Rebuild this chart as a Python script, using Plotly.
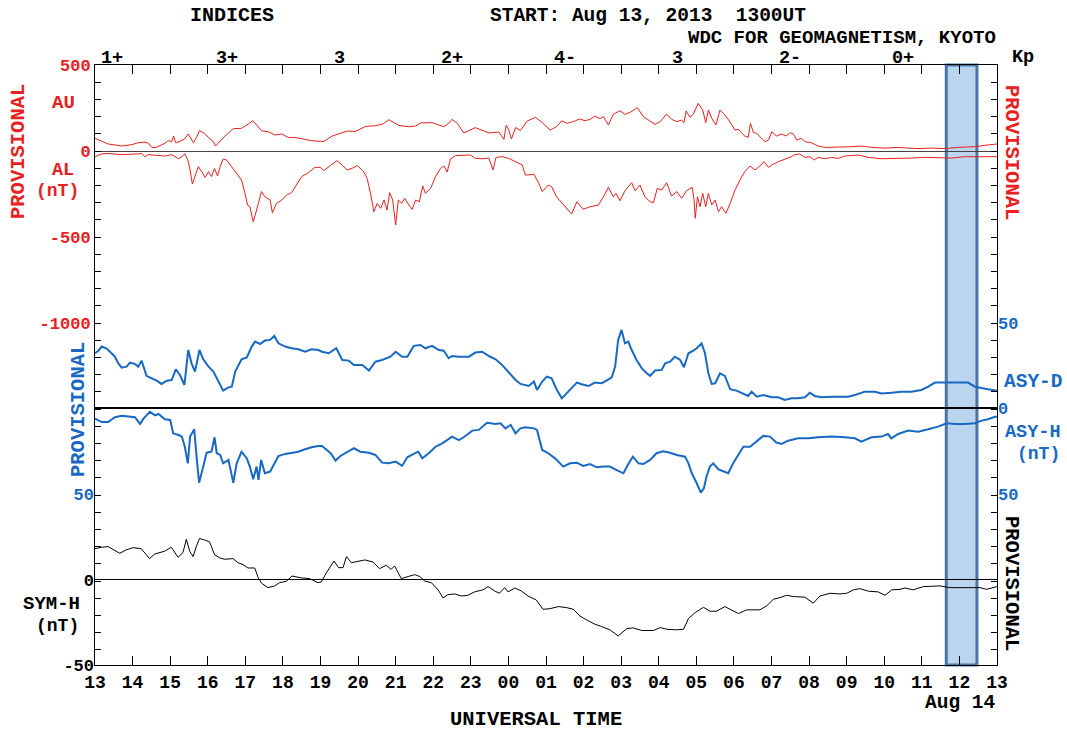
import pandas as pd
import plotly.graph_objects as go

START = pd.Timestamp("2013-08-13 13:00")
RED = "#e8201e"
BLUE = "#1769c4"
BLACK = "#000000"
FONT = "Liberation Mono, Courier New, monospace"

# ---------------- data (hours after 13:00 UT, Aug 13 2013) ----------------
au_hours = [0.00,0.35,0.71,0.98,1.15,1.33,1.42,1.51,1.60,1.69,
            1.86,1.95,2.04,2.09,2.15,2.26,2.39,2.48,2.53,2.62,
            2.71,2.78,2.88,3.02,3.15,3.21,3.28,3.46,3.68,3.90,
            4.08,4.20,4.30,4.43,4.61,4.79,4.97,5.14,5.32,5.50,
            5.76,6.00,
            6.09,6.31,6.49,6.71,6.93,7.20,7.46,7.64,7.82,8.08,
            8.35,8.53,8.66,8.97,9.28,9.41,9.50,9.64,9.81,10.12,
            10.48,10.75,10.88,10.94,11.01,11.08,11.19,11.32,11.50,11.72,
            11.90,
            11.97,12.11,12.28,12.42,12.55,12.73,12.90,13.04,13.17,13.30,
            13.44,13.53,13.66,13.79,13.97,14.10,14.24,14.43,14.59,14.72,
            14.90,15.03,15.21,15.34,15.48,15.61,15.67,15.73,15.83,15.92,
            16.05,16.17,16.25,16.32,16.41,16.52,16.63,16.72,16.85,17.03,
            17.12,17.21,17.29,17.38,17.44,17.52,17.61,17.69,17.83,17.92,
            18.01,
            18.13,18.27,18.40,18.49,18.58,18.67,18.80,18.89,19.06,19.24,
            19.42,19.60,19.86,20.13,20.39,20.66,21.02,21.37,21.64,21.90,
            22.26,22.61,22.97,23.41,23.68,24.00]
au_nt = [74,41,29,37,48,52,45,21,19,29,
         45,60,54,87,48,56,72,99,79,48,
         83,118,107,79,54,29,45,87,130,132,
         157,176,151,118,112,93,99,79,79,70,
         60,56,
         56,87,99,116,114,143,147,155,182,149,
         141,145,163,165,141,161,184,161,105,136,
         105,110,68,149,122,70,136,120,174,196,
         165,
         151,122,141,176,161,171,186,176,184,203,
         188,200,151,213,234,213,225,252,200,180,
         155,169,215,184,171,180,165,233,196,215,
         277,238,165,238,190,151,238,219,184,122,
         126,103,87,79,161,107,103,83,54,64,
         112,
         87,99,87,107,99,64,74,54,48,29,
         21,21,21,25,29,21,17,21,17,14,
         17,14,21,25,33,41]

al_hours = [0.00,0.18,0.35,0.71,1.15,1.24,1.33,1.42,1.60,1.86,
            2.04,2.22,2.31,2.39,2.47,2.53,2.59,2.66,2.75,2.84,
            2.93,3.02,3.10,3.18,3.26,3.33,3.41,3.50,3.64,3.77,
            3.90,3.99,4.06,4.12,4.21,4.30,4.43,4.52,4.66,4.72,
            4.83,4.97,5.10,5.23,5.37,5.50,5.68,5.85,6.00,
            6.09,6.27,6.44,6.58,6.71,6.84,6.98,7.15,7.24,7.33,
            7.42,7.51,7.60,7.69,7.77,7.84,7.92,8.00,8.07,8.16,
            8.24,8.35,8.44,8.53,8.63,8.72,8.79,8.93,9.06,9.19,
            9.28,9.37,9.46,9.59,9.81,9.99,10.12,10.30,10.48,10.59,
            10.67,10.83,11.01,11.19,11.37,11.45,11.68,11.81,11.90,
            12.06,12.15,12.28,12.46,12.68,12.82,12.99,13.17,13.39,13.53,
            13.66,13.79,13.86,13.97,14.10,14.28,14.37,14.50,14.63,14.77,
            14.86,14.96,15.08,15.21,15.34,15.48,15.61,15.74,15.89,15.94,
            15.97,16.03,16.10,16.17,16.25,16.32,16.41,16.50,16.59,16.67,
            16.79,16.90,17.03,17.16,17.29,17.43,17.56,17.69,17.80,17.92,
            18.01,
            18.18,18.35,18.49,18.62,18.75,18.89,19.02,19.14,19.24,19.42,
            19.60,19.77,19.95,20.31,20.57,20.93,21.37,21.72,22.08,22.43,
            22.79,23.14,23.50,24.00]
al_nt = [-33,-17,-14,-21,-17,-14,-33,-21,-25,-29,
         -21,-45,-33,-17,-52,-110,-192,-145,-91,-120,
         -153,-120,-149,-101,-145,-91,-47,-52,-95,-130,
         -169,-246,-314,-324,-411,-343,-236,-266,-285,-359,
         -304,-285,-256,-242,-192,-149,-126,-95,-95,
         -114,-83,-56,-83,-110,-101,-85,-120,-159,-246,
         -353,-304,-333,-285,-343,-242,-285,-430,-285,-304,
         -275,-314,-339,-285,-295,-203,-246,-217,-149,-103,
         -87,-122,-45,-27,-27,-23,-43,-45,-41,-110,
         -37,-33,-43,-62,-81,-140,-136,-188,-236,
         -198,-207,-266,-314,-366,-295,-339,-324,-314,-266,
         -211,-266,-246,-289,-231,-184,-231,-198,-266,-295,
         -300,-217,-227,-184,-262,-236,-275,-231,-211,-285,
         -391,-266,-324,-246,-324,-246,-314,-285,-353,-324,
         -362,-304,-227,-169,-120,-87,-110,-87,-62,-95,
         -81,
         -62,-48,-37,-21,-17,-37,-33,-52,-37,-45,
         -37,-43,-29,-23,-37,-45,-45,-41,-37,-39,
         -41,-33,-33,-33]

asyd_hours = [0.00,0.09,0.18,0.31,0.44,0.53,0.62,0.71,0.84,0.93,
              1.06,1.15,1.24,1.33,1.37,1.51,1.64,1.77,1.91,2.04,
              2.15,2.26,2.38,2.48,2.57,2.66,2.78,2.88,3.02,3.15,
              3.24,3.33,3.41,3.55,3.64,3.73,3.90,4.04,4.17,4.26,
              4.39,4.52,4.66,4.77,4.88,5.06,5.23,5.41,5.59,5.76,
              5.94,
              6.04,6.22,6.42,6.58,6.75,6.89,7.11,7.29,7.46,7.64,
              7.86,8.00,8.17,8.31,8.48,8.66,8.79,8.97,9.15,9.28,
              9.41,9.50,9.68,9.95,10.12,10.30,10.48,10.66,10.83,11.01,
              11.19,11.32,11.54,11.68,11.76,11.90,
              12.02,12.15,12.28,12.42,12.55,12.68,12.82,12.95,13.13,13.30,
              13.48,13.61,13.75,13.84,13.92,14.01,14.10,14.19,14.28,14.41,
              14.55,14.68,14.77,14.90,15.08,15.17,15.30,15.43,15.57,15.67,
              15.79,15.92,16.01,16.14,16.23,16.32,16.41,16.50,16.63,16.76,
              16.90,17.07,17.25,17.38,17.47,17.61,17.78,18.01,
              18.18,18.35,18.53,18.71,18.89,19.02,19.15,19.33,19.60,19.86,
              20.04,20.22,20.48,20.75,20.93,21.19,21.46,21.72,21.99,22.17,
              22.35,22.52,22.79,22.97,23.23,23.41,23.59,23.76,24.00]
asyd_nt = [32.1,33.6,36.0,34.8,32.1,30.1,26.2,23.7,24.3,26.6,
           25.9,24.3,27.8,22.4,18.9,17.5,16.1,14.2,16.1,16.5,
           22.7,19.4,13.6,34.0,26.2,21.4,34.0,28.6,24.3,21.4,
           17.5,13.6,10.3,12.2,12.6,21.4,28.6,29.7,36.0,38.9,
           37.5,39.5,39.9,42.2,37.9,36.0,35.0,34.4,33.0,34.4,
           34.0,
           33.0,32.1,35.0,28.2,27.8,25.3,25.3,22.0,27.2,28.2,
           30.1,33.0,30.1,30.1,36.4,36.9,35.0,36.4,34.0,33.6,
           29.2,30.5,30.1,30.1,32.5,33.0,30.5,28.6,25.3,20.8,
           16.5,14.2,13.0,15.6,10.7,15.6,
           18.5,17.5,11.1,5.8,8.7,11.7,15.0,14.0,13.0,15.0,
           14.6,16.1,18.1,24.3,39.9,45.7,37.9,38.9,34.0,28.2,
           23.3,20.4,18.9,22.0,22.4,26.2,27.2,30.1,28.2,23.9,
           32.1,33.6,35.0,37.9,32.1,20.4,14.2,14.6,20.4,18.9,
           11.1,10.3,8.7,7.2,9.7,6.8,7.8,6.4,
           6.4,4.9,5.8,5.8,6.4,9.1,7.2,6.4,6.8,6.8,
           6.8,7.8,9.7,9.7,8.7,9.1,9.7,9.7,10.7,12.6,
           15.0,15.0,15.0,14.6,15.0,12.6,11.7,11.1,10.3]

asyh_hours = [0.00,0.18,0.35,0.53,0.71,0.89,1.06,1.20,1.29,1.46,
              1.60,1.69,1.86,2.00,2.08,2.22,2.31,2.39,2.47,2.53,
              2.64,2.71,2.77,2.88,2.97,3.10,3.18,3.24,3.33,3.41,
              3.55,3.68,3.77,3.90,4.04,4.12,4.21,4.30,4.35,4.42,
              4.52,4.66,4.79,4.88,5.06,5.23,5.41,5.59,5.76,5.94,
              6.04,6.27,6.40,6.53,6.71,6.89,7.06,7.29,7.46,7.64,
              7.82,8.00,8.17,8.31,8.48,8.60,8.71,8.88,9.06,9.24,
              9.50,9.68,9.81,10.04,10.21,10.30,10.43,10.66,10.79,10.92,
              11.06,11.19,11.32,11.45,11.68,11.76,11.90,
              12.06,12.24,12.46,12.64,12.82,12.99,13.17,13.35,13.53,13.70,
              13.88,14.06,14.19,14.31,14.46,14.59,14.77,14.94,15.12,15.30,
              15.48,15.70,15.79,15.88,16.01,16.12,16.20,16.27,16.36,16.45,
              16.59,16.72,16.85,16.98,17.12,17.25,17.43,17.61,17.78,17.96,
              18.13,18.27,18.44,18.71,18.98,19.24,19.60,19.95,20.22,20.39,
              20.66,20.93,21.10,21.19,21.37,21.64,21.90,22.17,22.43,22.66,
              22.88,23.14,23.41,23.59,23.76,23.94,24.00]
asyh_nt = [6.0,8.0,8.0,5.2,4.3,4.9,5.2,9.1,6.0,2.1,
           4.1,3.3,6.4,6.8,14.6,15.6,16.5,22.4,32.1,16.5,
           12.2,30.1,43.4,34.0,25.9,25.3,16.9,26.2,27.2,32.1,
           30.1,43.4,32.1,25.3,29.2,34.0,41.4,34.0,41.8,30.1,
           37.9,36.9,31.7,27.8,26.6,25.9,25.3,23.9,22.7,22.0,
           22.0,26.2,30.5,27.8,25.3,23.3,25.3,25.9,27.2,31.7,
           32.1,31.1,33.6,28.6,26.6,25.3,29.2,26.2,22.4,20.4,
           16.5,18.5,16.9,13.0,12.6,11.1,8.4,9.1,8.7,11.7,
           9.7,14.6,11.7,11.1,11.7,12.6,24.3,
           26.2,29.2,34.0,32.1,31.7,33.6,32.5,34.4,34.0,34.0,
           36.0,37.9,32.5,28.2,32.1,32.5,30.1,26.2,25.1,25.9,
           27.2,28.2,32.1,37.9,43.7,49.2,46.7,39.9,34.0,32.1,
           35.6,36.9,37.9,32.1,27.2,22.4,22.4,18.9,16.1,16.5,
           20.0,20.8,18.9,17.5,17.5,16.9,16.5,16.9,17.5,19.4,
           16.9,16.5,15.0,17.5,15.0,13.0,13.6,12.2,10.7,8.7,
           9.1,9.1,8.7,7.2,6.4,4.9,4.9]

symh_hours = [0.00,0.17,0.35,0.48,0.66,0.83,1.01,1.23,1.37,1.45,
              1.59,1.85,2.03,2.21,2.34,2.43,2.52,2.61,2.70,2.78,
              2.92,3.05,3.18,3.32,3.45,3.67,3.80,3.94,4.07,4.25,
              4.34,4.43,4.60,4.78,4.91,5.09,5.24,5.49,5.71,5.93,
              6.02,6.16,6.36,6.48,6.60,6.69,6.82,6.99,7.18,7.40,
              7.57,7.75,7.88,7.97,8.15,8.33,8.51,8.64,8.77,8.95,
              9.13,9.26,9.39,9.57,9.75,9.92,10.10,10.32,10.46,10.63,
              10.76,10.90,10.99,11.17,11.34,11.52,11.74,11.92,
              12.11,12.33,12.55,12.73,12.90,13.08,13.30,13.48,13.70,13.92,
              14.15,14.32,14.55,14.86,15.04,15.22,15.48,15.66,15.79,15.97,
              16.19,16.36,16.54,16.76,16.94,17.12,17.34,17.69,17.87,18.05,
              18.23,18.40,18.58,18.89,19.11,19.29,19.56,19.82,20.00,20.18,
              20.35,20.58,20.84,21.02,21.20,21.42,21.55,21.77,22.04,22.31,
              22.48,22.75,23.01,23.28,23.55,23.72,24.00]
symh_nt = [18.1,18.9,19.3,17.7,15.4,17.4,18.7,18.1,14.8,12.3,
           15.0,16.6,18.9,13.1,15.8,23.6,16.6,13.5,19.7,24.0,
           23.2,22.0,14.6,12.7,11.9,12.3,9.9,8.8,6.8,6.8,
           1.2,-2.1,-4.7,-3.7,-1.8,-1.0,2.1,1.0,0.6,-1.8,
           -1.4,4.1,10.9,7.0,7.0,13.5,9.9,10.7,11.5,10.3,
           6.4,8.4,6.0,8.0,0.6,1.8,2.9,1.8,-0.8,-1.8,
           -6.0,-10.7,-8.8,-8.4,-9.6,-9.2,-7.2,-6.0,-4.1,-6.6,
           -8.0,-4.7,-7.2,-4.9,-6.6,-9.6,-11.9,-17.4,
           -17.0,-15.8,-16.4,-17.4,-21.3,-23.6,-26.1,-27.5,-29.4,-33.0,
           -28.7,-28.3,-29.8,-29.8,-28.1,-29.1,-29.4,-29.1,-22.8,-19.3,
           -16.2,-18.5,-18.5,-15.8,-17.7,-19.9,-17.7,-17.7,-15.4,-11.5,
           -10.5,-9.2,-9.9,-10.3,-13.8,-9.6,-8.0,-8.4,-8.0,-6.0,
           -5.3,-6.8,-7.2,-9.2,-6.0,-5.7,-4.9,-6.0,-4.1,-4.1,
           -3.7,-4.7,-4.7,-4.5,-4.7,-5.7,-4.1]

kp_labels = ["1+", "3+", "3", "2+", "4-", "3", "2-", "0+"]
kp_hours = [0.45, 3.5, 6.5, 9.5, 12.5, 15.5, 18.5, 21.5]

highlight_start = "2013-08-14 11:39"
highlight_end = "2013-08-14 12:28"


def t(hours):
    return START + pd.to_timedelta(hours, unit="h")


# ---------------- figure ----------------
fig = go.Figure()
fig.add_trace(go.Scatter(x=t(au_hours), y=au_nt, mode="lines",
                         line=dict(color=RED, width=1), yaxis="y", name="AU"))
fig.add_trace(go.Scatter(x=t(al_hours), y=al_nt, mode="lines",
                         line=dict(color=RED, width=1), yaxis="y", name="AL"))
fig.add_trace(go.Scatter(x=t(asyd_hours), y=asyd_nt, mode="lines",
                         line=dict(color=BLUE, width=2), yaxis="y2", name="ASY-D"))
fig.add_trace(go.Scatter(x=t(asyh_hours), y=asyh_nt, mode="lines",
                         line=dict(color=BLUE, width=2), yaxis="y3", name="ASY-H"))
fig.add_trace(go.Scatter(x=t(symh_hours), y=symh_nt, mode="lines",
                         line=dict(color=BLACK, width=1), yaxis="y4", name="SYM-H"))
fig.add_trace(go.Scatter(x=[], y=[], yaxis="y5", showlegend=False))

TICKFONT = dict(family=FONT, size=17, weight="bold")


def yax(rng, vals, color, side, **kw):
    d = dict(range=rng, tickmode="array", tickvals=vals, ticktext=[str(v) for v in vals],
             tickfont=dict(TICKFONT, color=color), side=side, showgrid=False,
             zeroline=False, showline=False, ticks="", fixedrange=True)
    d.update(kw)
    return d


layout_axes = dict(
    xaxis=dict(type="date", range=[t(0), t(24)], tickmode="linear", tick0=t(0),
               dtick=3600000, tickformat="%H", ticks="inside", ticklen=9, tickwidth=1,
               tickcolor="black", showline=True, linecolor="black", linewidth=1,
               mirror="ticks", showgrid=False, zeroline=False,
               tickfont=dict(TICKFONT, size=18, color="black")),
    yaxis=yax([-2988, 500], [500, 0, -500, -1000], RED, "left",
              ticks="inside", ticklen=6, tickcolor="black", showline=True,
              linecolor="black", linewidth=1, mirror="ticks",
              minor=dict(tickmode="linear", tick0=0, dtick=100, ticks="inside",
                         ticklen=6, tickcolor="black", showgrid=False),
              zeroline=True, zerolinecolor="#444", zerolinewidth=1),
    yaxis2=yax([-149.7, 200.2], [50, 0], BLUE, "right", overlaying="y",
               zeroline=True, zerolinecolor="black", zerolinewidth=1.5),
    yaxis3=yax([149.7, -200.2], [50], BLUE, "left", overlaying="y"),
    yaxis4=yax([-50, 301.3], [0, -50], BLACK, "left", overlaying="y",
               zeroline=True, zerolinecolor="black", zerolinewidth=1),
    yaxis5=yax([149.7, -200.2], [50], BLUE, "right", overlaying="y"),
)

L, R, T, B = 95, 70, 65, 66
W, H = 1067, 731
PW, PH = W - L - R, H - T - B


def px(x):
    return (x - L) / PW


def py(y):
    return (H - B - y) / PH


def ann(text, x, y, color, size=20, xanchor="center", yanchor="middle", angle=0):
    return dict(text=text, x=px(x), y=py(y), xref="paper", yref="paper",
                showarrow=False, xanchor=xanchor, yanchor=yanchor, textangle=angle,
                font=dict(family=FONT, size=size, color=color, weight="bold"))


anns = [
    ann("INDICES", 232, 16, BLACK, 20),
    ann("START: Aug 13, 2013  1300UT", 648, 16, BLACK, 19.5),
    ann("WDC FOR GEOMAGNETISM, KYOTO", 998, 38, BLACK, 19, xanchor="right"),
    ann("Kp", 1023, 58, BLACK, 18.5),
    ann("AU", 63, 103, RED, 19),
    ann("AL", 63, 170, RED, 18.5),
    ann("(nT)", 57, 191, RED, 18),
    ann("PROVISIONAL", 18, 152, RED, 20.5, angle=-90),
    ann("PROVISIONAL", 1012, 152, RED, 20.5, angle=90),
    ann("PROVISIONAL", 78, 410, BLUE, 20.5, angle=-90),
    ann("PROVISIONAL", 1012, 583, BLACK, 20.5, angle=90),
    ann("ASY-D", 1033, 382, BLUE, 19.5),
    ann("ASY-H", 1033, 432, BLUE, 18.5),
    ann("(nT)", 1038, 454, BLUE, 18),
    ann("SYM-H", 51, 604, BLACK, 19),
    ann("(nT)", 57, 626, BLACK, 18),
    ann("Aug 14", 960, 703, BLACK, 19.5),
    ann("UNIVERSAL TIME", 536, 720, BLACK, 20.5),
]
for lab, hr in zip(kp_labels, kp_hours):
    anns.append(dict(text=lab, x=t(hr), y=py(59), xref="x", yref="paper",
                     showarrow=False, xanchor="center", yanchor="middle",
                     font=dict(family=FONT, size=18.5, color=BLACK, weight="bold")))

fig.update_layout(
    width=W, height=H,
    margin=dict(l=L, r=R, t=T, b=B, pad=0),
    paper_bgcolor="white", plot_bgcolor="white",
    showlegend=False,
    annotations=anns,
    shapes=[dict(type="rect", xref="x", yref="paper",
                 x0=highlight_start, x1=highlight_end, y0=0, y1=1,
                 fillcolor="#bcd5ee", line=dict(color="#4a76a6", width=3),
                 layer="below")],
    **layout_axes,
)

fig.write_html("out.html")
